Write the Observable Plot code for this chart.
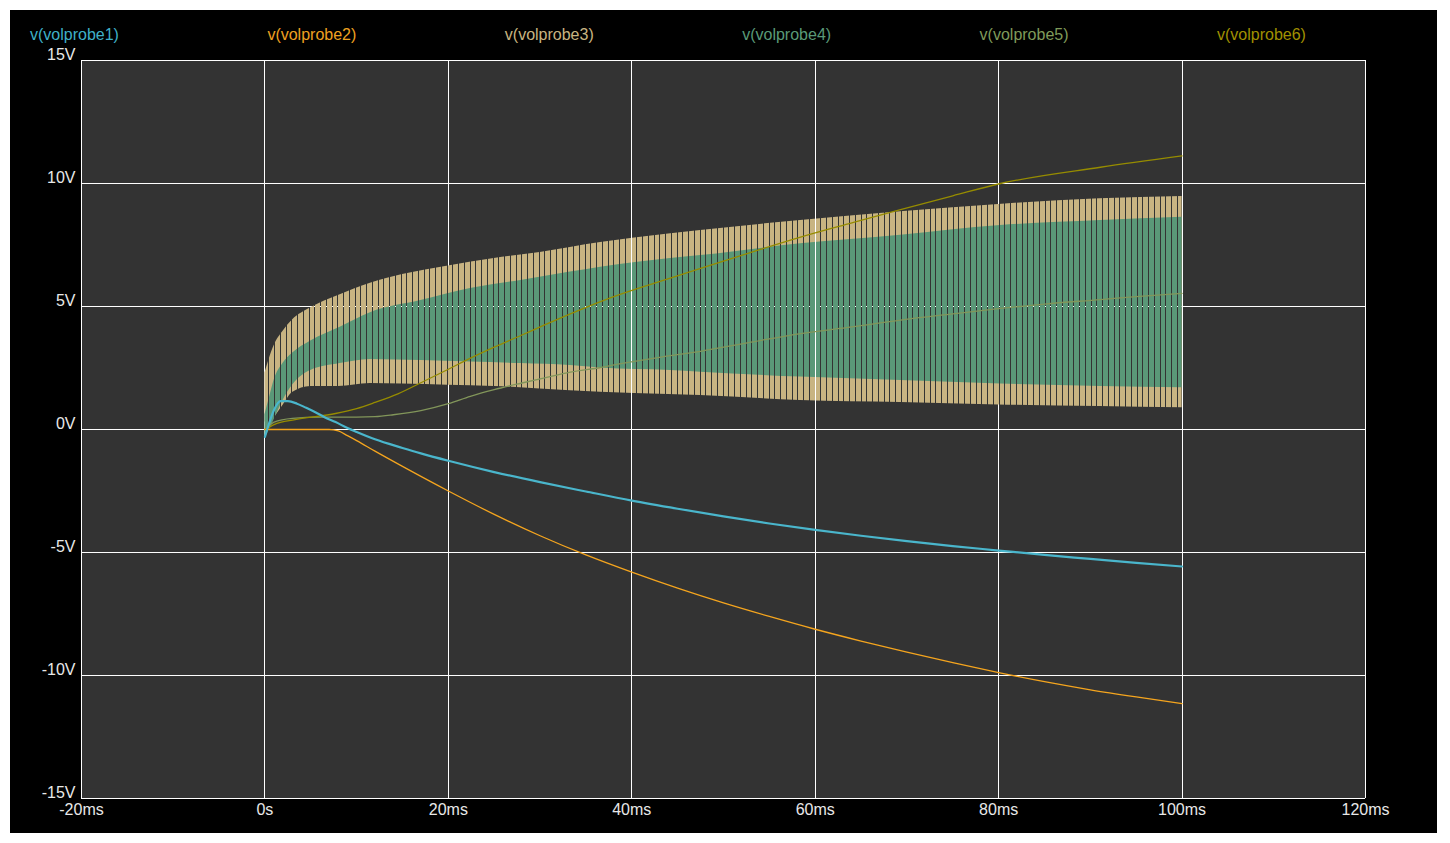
<!DOCTYPE html>
<html><head><meta charset="utf-8">
<script src="https://cdn.jsdelivr.net/npm/d3@7"></script>
<script src="https://cdn.jsdelivr.net/npm/@observablehq/plot@0.6"></script>
<style>
body{margin:0;background:#fff;}
#wrap{position:absolute;left:10px;top:10px;width:1427px;height:823px;background:#000;font-family:"Liberation Sans",Arial,sans-serif;}
#legend{position:relative;height:38px;}
#legend span{position:absolute;top:15px;font-size:16px;line-height:20px;white-space:nowrap;}
</style>
</head><body>
<div id="wrap"><div id="legend"></div><div id="chart"></div></div>
<script>
// ---- data (time in ms, voltage in V) ----
const seriesNames = ["v(volprobe1)","v(volprobe2)","v(volprobe3)","v(volprobe4)","v(volprobe5)","v(volprobe6)"];
const xTicks = [-20,0,20,40,60,80,100,120];
const yTicks = [-15,-10,-5,0,5,10,15];

const t1 = [0,0.5,1,1.7,2.5,3.5,4.5,5.5,6.5,7.7,9,10,12,15,17,20,25,30,35,40,45,50,55,60,65,70,75,80,85,90,95,100];
const v1 = [-0.3,0.3,0.8,1.15,1.15,1.05,0.88,0.7,0.5,0.3,0.06,-0.1,-0.4,-0.75,-0.97,-1.27,-1.73,-2.14,-2.52,-2.89,-3.22,-3.53,-3.82,-4.08,-4.32,-4.54,-4.74,-4.92,-5.1,-5.26,-5.42,-5.57];

const t2 = [0,7,8,9,10,12,15,20,25,30,35,40,45,50,55,60,65,70,75,80,85,90,95,100];
const v2 = [0,0,-0.06,-0.25,-0.45,-0.88,-1.5,-2.5,-3.45,-4.32,-5.1,-5.8,-6.45,-7.05,-7.6,-8.12,-8.6,-9.05,-9.48,-9.88,-10.25,-10.58,-10.87,-11.14];

const t3 = [0,0.5,1,2,3,5,8,11.5,15,20,25,30,36.6,44,47.5,58.4,69.3,80,91,100];
const v3Upper = [2.3,2.9,3.4,4.0,4.45,4.95,5.45,5.95,6.3,6.65,6.95,7.2,7.6,7.95,8.09,8.5,8.85,9.15,9.38,9.47];
const v3Lower = [0.3,0.35,0.5,1.0,1.5,1.75,1.75,1.87,1.85,1.8,1.75,1.65,1.51,1.42,1.38,1.18,1.1,1.0,0.93,0.88];

const t4 = [0,0.5,1,2,3,5,8.2,11.5,17,22.4,27.9,33.3,36.6,44.2,47.5,58.4,69.3,80.2,91.1,100];
const v4Upper = [0.6,1.3,2.0,2.7,3.1,3.6,4.16,4.75,5.24,5.73,6.06,6.4,6.6,6.95,7.07,7.55,7.9,8.29,8.5,8.63];
const v4Lower = [-0.35,0.0,0.4,1.2,1.8,2.4,2.68,2.85,2.8,2.74,2.68,2.6,2.5,2.4,2.33,2.13,1.99,1.85,1.75,1.7];

const t5 = [0,1,3,6,10,12,14,17,20,22.4,25,27.9,30.5,33.3,36.6,38.8,44.2,47.5,53,58.4,64,69.3,75,80.2,85,91.1,95,100];
const v5 = [0,0.3,0.45,0.5,0.5,0.52,0.6,0.77,1.05,1.35,1.62,1.88,2.1,2.33,2.52,2.68,3.0,3.18,3.55,3.9,4.17,4.45,4.7,4.92,5.1,5.28,5.4,5.53];

const t6 = [0,1,3.3,7.7,10,12,14.5,17,20,22.4,25,27.9,30.5,33.3,36.6,38.8,44.2,47.5,53,58.4,64,69.3,75,80.2,91.1,100];
const v6 = [0,0.2,0.4,0.65,0.85,1.1,1.45,1.9,2.45,2.9,3.35,3.82,4.25,4.7,5.2,5.5,6.15,6.55,7.2,7.82,8.4,8.94,9.5,10.0,10.66,11.12];

// ---- styles ----
const lineColors = ["#4ab6cc","#f5a51e","#c8b482","#5a9878","#82965a","#968c00"];
const labelColors = ["#3fb0c8","#eea020","#c8b482","#5a9a78","#7f9a5a","#a09000"];

const pts = (ts, vs) => ts.map((t,i) => ({t, v: vs[i]}));
const band = (ts, lo, hi) => ts.map((t,i) => ({t, lo: lo[i], hi: hi[i]}));

const legend = document.getElementById("legend");
seriesNames.forEach((n,i) => {
  const s = document.createElement("span");
  s.textContent = n;
  s.style.left = (20 + i*237.4) + "px";
  s.style.color = labelColors[i];
  legend.appendChild(s);
});

function defs() {
  const d = d3.create("svg:defs");
  const mk = (id, color) => {
    const p = d.append("pattern").attr("id", id).attr("patternUnits","userSpaceOnUse")
      .attr("width", 23).attr("height", 8);
    [[1,4],[6,5],[12,5],[18,5]].forEach(([x,w]) => p.append("rect").attr("x",x).attr("y",0).attr("width",w).attr("height",8).attr("fill",color));
  };
  mk("tanStripes", lineColors[2]);
  mk("greenStripes", lineColors[3]);
  return d.node();
}

const chart = Plot.plot({
  width: 1427, height: 785,
  marginTop: 12, marginBottom: 35, marginLeft: 71, marginRight: 72,
  x: {domain: [-20,120]},
  y: {domain: [-15,15]},
  style: {background: "transparent", color: "#e8e8e8", fontSize: "16px", fontFamily: "'Liberation Sans', Arial, sans-serif", overflow: "visible"},
  marks: [
    defs,
    Plot.frame({fill: "#333333", stroke: "none"}),
    Plot.ruleX(xTicks, {stroke: "#ffffff", strokeWidth: 1, shapeRendering: "crispEdges"}),
    Plot.ruleY(yTicks, {stroke: "#ffffff", strokeWidth: 1, shapeRendering: "crispEdges"}),
    Plot.areaY(band(t3, v3Lower, v3Upper), {x: "t", y1: "lo", y2: "hi", fill: "url(#tanStripes)", curve: "monotone-x"}),
    Plot.areaY(band(t4, v4Lower, v4Upper), {x: "t", y1: "lo", y2: "hi", fill: "url(#greenStripes)", curve: "monotone-x"}),
    Plot.line(pts(t5, v5), {x: "t", y: "v", stroke: lineColors[4], strokeWidth: 1.3, curve: "monotone-x"}),
    Plot.line(pts(t6, v6), {x: "t", y: "v", stroke: lineColors[5], strokeWidth: 1.3, curve: "monotone-x"}),
    Plot.line(pts(t2, v2), {x: "t", y: "v", stroke: lineColors[1], strokeWidth: 1.3, curve: "monotone-x"}),
    Plot.line(pts(t1, v1), {x: "t", y: "v", stroke: lineColors[0], strokeWidth: 2.2, curve: "monotone-x"}),
    Plot.axisX({ticks: xTicks, tickSize: 0, tickPadding: 5, label: null, tickFormat: d => d === 0 ? "0s" : d + "ms"}),
    Plot.axisY({ticks: yTicks, tickSize: 0, tickPadding: 6, dy: -6, label: null, tickFormat: d => d + "V"})
  ]
});
document.getElementById("chart").appendChild(chart);
</script>
</body></html>
